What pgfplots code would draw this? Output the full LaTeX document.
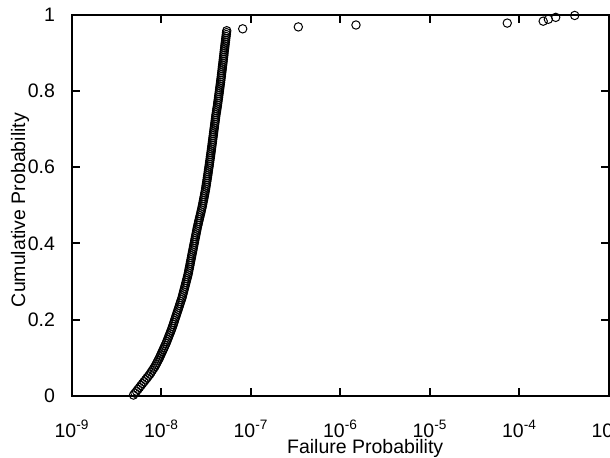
\documentclass[border=0pt]{standalone}
\usepackage{fontspec}
\setmainfont{Liberation Sans}
\usepackage{pgfplots}
\pgfplotsset{compat=1.18}
\begin{document}
\begin{tikzpicture}
\begin{axis}[
  at={(0,0)}, anchor=south west,
  scale only axis, width=268.5pt, height=190.75pt,
  xmode=log, xmin=1e-9, xmax=1e-3, ymin=0, ymax=1,
  xtick={1e-9,1e-8,1e-7,1e-6,1e-5,1e-4,1e-3},
  xticklabels={10\textsuperscript{-9},10\textsuperscript{-8},10\textsuperscript{-7},10\textsuperscript{-6},10\textsuperscript{-5},10\textsuperscript{-4},10\textsuperscript{-3}},
  ytick={0,0.2,0.4,0.6,0.8,1},
  yticklabels={0,0.2,0.4,0.6,0.8,1},
  xminorticks=false, yminorticks=false,
  tick align=inside,
  major tick length=4.2pt,
  every tick/.style={black, line width=1pt},
  axis line style={line width=1pt},
  font=\fontsize{9.75}{11}\selectfont,
  xticklabel style={anchor=base, yshift=-20.5pt},
  yticklabel style={xshift=-5pt},
  xlabel={Failure Probability},
  ylabel={Cumulative Probability},
  xlabel style={at={(axis description cs:0.546,-0.152)}, anchor=base},
  ylabel style={at={(axis description cs:-0.0875,0.4875)}, anchor=base},
  clip=false,
]
\addplot[only marks, mark=o, mark size=2.1pt, mark options={line width=0.5pt}, black] coordinates {
(4.87e-9,0.0025) (5.06e-9,0.0075) (5.26e-9,0.0125) (5.46e-9,0.0175) (5.68e-9,0.0225)
(5.90e-9,0.0275) (6.13e-9,0.0325) (6.38e-9,0.0375) (6.63e-9,0.0425) (6.89e-9,0.0475)
(7.16e-9,0.0525) (7.44e-9,0.0575) (7.68e-9,0.0625) (7.93e-9,0.0675) (8.19e-9,0.0725)
(8.46e-9,0.0775) (8.68e-9,0.0825) (8.91e-9,0.0875) (9.14e-9,0.0925) (9.38e-9,0.0975)
(9.60e-9,0.1025) (9.81e-9,0.1075) (1.003e-8,0.1125) (1.026e-8,0.1175) (1.050e-8,0.1225)
(1.073e-8,0.1275) (1.097e-8,0.1325) (1.123e-8,0.1375) (1.145e-8,0.1425) (1.167e-8,0.1475)
(1.190e-8,0.1525) (1.213e-8,0.1575) (1.236e-8,0.1625) (1.261e-8,0.1675) (1.285e-8,0.1725)
(1.310e-8,0.1775) (1.330e-8,0.1825) (1.353e-8,0.1875) (1.376e-8,0.1925) (1.397e-8,0.1975)
(1.419e-8,0.2025) (1.443e-8,0.2075) (1.467e-8,0.2125) (1.490e-8,0.2175) (1.513e-8,0.2225)
(1.539e-8,0.2275) (1.565e-8,0.2325) (1.589e-8,0.2375) (1.614e-8,0.2425) (1.641e-8,0.2475)
(1.669e-8,0.2525) (1.695e-8,0.2575) (1.717e-8,0.2625) (1.739e-8,0.2675) (1.761e-8,0.2725)
(1.784e-8,0.2775) (1.807e-8,0.2825) (1.831e-8,0.2875) (1.854e-8,0.2925) (1.878e-8,0.2975)
(1.902e-8,0.3025) (1.927e-8,0.3075) (1.952e-8,0.3125) (1.977e-8,0.3175) (1.998e-8,0.3225)
(2.016e-8,0.3275) (2.034e-8,0.3325) (2.055e-8,0.3375) (2.076e-8,0.3425) (2.095e-8,0.3475)
(2.114e-8,0.3525) (2.136e-8,0.3575) (2.158e-8,0.3625) (2.177e-8,0.3675) (2.197e-8,0.3725)
(2.220e-8,0.3775) (2.243e-8,0.3825) (2.263e-8,0.3875) (2.284e-8,0.3925) (2.307e-8,0.3975)
(2.331e-8,0.4025) (2.352e-8,0.4075) (2.374e-8,0.4125) (2.398e-8,0.4175) (2.423e-8,0.4225)
(2.445e-8,0.4275) (2.467e-8,0.4325) (2.493e-8,0.4375) (2.518e-8,0.4425) (2.548e-8,0.4475)
(2.577e-8,0.4525) (2.604e-8,0.4575) (2.638e-8,0.4625) (2.668e-8,0.4675) (2.700e-8,0.4725)
(2.734e-8,0.4775) (2.763e-8,0.4825) (2.795e-8,0.4875) (2.827e-8,0.4925) (2.857e-8,0.4975)
(2.886e-8,0.5025) (2.912e-8,0.5075) (2.939e-8,0.5125) (2.969e-8,0.5175) (3.000e-8,0.5225)
(3.027e-8,0.5275) (3.054e-8,0.5325) (3.086e-8,0.5375) (3.110e-8,0.5425) (3.134e-8,0.5475)
(3.158e-8,0.5525) (3.183e-8,0.5575) (3.208e-8,0.5625) (3.232e-8,0.5675) (3.257e-8,0.5725)
(3.283e-8,0.5775) (3.308e-8,0.5825) (3.329e-8,0.5875) (3.350e-8,0.5925) (3.377e-8,0.5975)
(3.403e-8,0.6025) (3.425e-8,0.6075) (3.447e-8,0.6125) (3.473e-8,0.6175) (3.501e-8,0.6225)
(3.523e-8,0.6275) (3.546e-8,0.6325) (3.573e-8,0.6375) (3.596e-8,0.6425) (3.619e-8,0.6475)
(3.643e-8,0.6525) (3.666e-8,0.6575) (3.690e-8,0.6625) (3.714e-8,0.6675) (3.737e-8,0.6725)
(3.762e-8,0.6775) (3.786e-8,0.6825) (3.811e-8,0.6875) (3.835e-8,0.6925) (3.860e-8,0.6975)
(3.885e-8,0.7025) (3.910e-8,0.7075) (3.935e-8,0.7125) (3.961e-8,0.7175) (3.986e-8,0.7225)
(4.012e-8,0.7275) (4.037e-8,0.7325) (4.064e-8,0.7375) (4.095e-8,0.7425) (4.127e-8,0.7475)
(4.159e-8,0.7525) (4.192e-8,0.7575) (4.224e-8,0.7625) (4.251e-8,0.7675) (4.278e-8,0.7725)
(4.312e-8,0.7775) (4.339e-8,0.7825) (4.367e-8,0.7875) (4.396e-8,0.7925) (4.424e-8,0.7975)
(4.452e-8,0.8025) (4.481e-8,0.8075) (4.510e-8,0.8125) (4.539e-8,0.8175) (4.568e-8,0.8225)
(4.598e-8,0.8275) (4.628e-8,0.8325) (4.658e-8,0.8375) (4.681e-8,0.8425) (4.712e-8,0.8475)
(4.742e-8,0.8525) (4.767e-8,0.8575) (4.791e-8,0.8625) (4.822e-8,0.8675) (4.853e-8,0.8725)
(4.878e-8,0.8775) (4.904e-8,0.8825) (4.935e-8,0.8875) (4.967e-8,0.8925) (4.992e-8,0.8975)
(5.018e-8,0.9025) (5.050e-8,0.9075) (5.083e-8,0.9125) (5.109e-8,0.9175) (5.136e-8,0.9225)
(5.169e-8,0.9275) (5.202e-8,0.9325) (5.229e-8,0.9375) (5.263e-8,0.9425) (5.297e-8,0.9475)
(5.324e-8,0.9525) (5.36e-8,0.9575)
(8.08e-8,0.9625) (3.38e-7,0.9675) (1.49e-6,0.9725) (7.30e-5,0.9775)
(1.84e-4,0.9825) (2.10e-4,0.9875) (2.54e-4,0.9925) (4.14e-4,0.9975)
};
\end{axis}
\pgfresetboundingbox
\path[use as bounding box] (-36pt,-30.5pt) rectangle (269pt,198pt);
\end{tikzpicture}
\end{document}
